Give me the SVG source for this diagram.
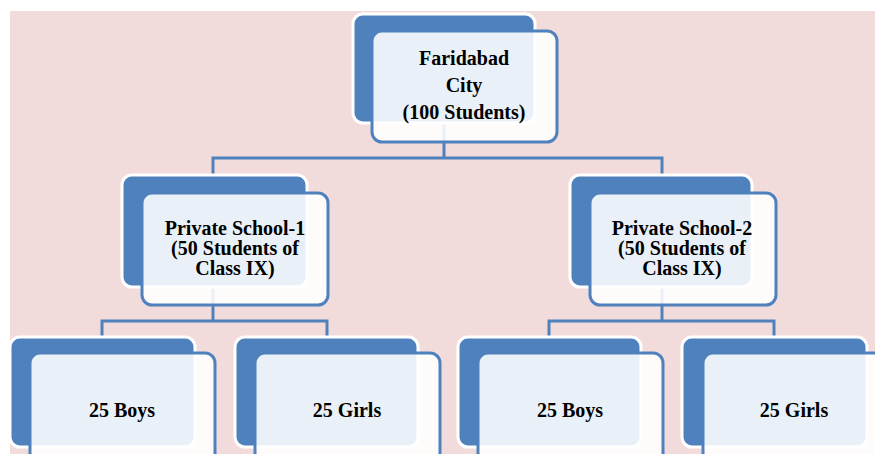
<svg xmlns="http://www.w3.org/2000/svg" width="875" height="454" viewBox="0 0 875 454">
<style>
.back{fill:#4F81BD;stroke:#FFFFFF;stroke-width:3}
.front{fill:#FFFFFF;fill-opacity:0.88;stroke:#4F81BD;stroke-width:3}
.conn{fill:none;stroke:#4F81BD;stroke-width:3}
text{font-family:"Liberation Serif","Times New Roman",serif;font-weight:bold;font-size:20px;fill:#000;text-anchor:middle}
</style>
<rect x="10" y="11" width="865" height="443" fill="#F2DCDB"/>
<g id="connectors">
<path class="conn" d="M444 123V158M213 175V158H662V175"/>
<path class="conn" d="M213 287V321M102 337V321H327V337"/>
<path class="conn" d="M662 287V321M549 337V321H774V337"/>
</g>
<g id="faridabad">
<rect class="back" x="353" y="14" width="182" height="109" rx="10"/>
<rect class="front" x="372" y="31" width="185" height="111" rx="10"/>
<text x="464" y="65">Faridabad</text>
<text x="464" y="92">City</text>
<text x="464" y="119">(100 Students)</text>
</g>
<g id="school1">
<rect class="back" x="122" y="175" width="185" height="112" rx="10"/>
<rect class="front" x="142" y="193" width="186" height="112" rx="10"/>
<text x="235" y="235">Private School-1</text>
<text x="235" y="255">(50 Students of</text>
<text x="235" y="275">Class IX)</text>
</g>
<g id="school2">
<rect class="back" x="570" y="175" width="182" height="112" rx="10"/>
<rect class="front" x="590" y="193" width="186" height="112" rx="10"/>
<text x="682" y="235">Private School-2</text>
<text x="682" y="255">(50 Students of</text>
<text x="682" y="275">Class IX)</text>
</g>
<g id="boys1">
<rect class="back" x="10" y="337" width="185" height="110" rx="10"/>
<rect class="front" x="30" y="353" width="185" height="120" rx="10"/>
<text x="122" y="417">25 Boys</text>
</g>
<g id="girls1">
<rect class="back" x="235" y="337" width="183" height="110" rx="10"/>
<rect class="front" x="255" y="353" width="185" height="120" rx="10"/>
<text x="347" y="417">25 Girls</text>
</g>
<g id="boys2">
<rect class="back" x="458" y="337" width="183" height="110" rx="10"/>
<rect class="front" x="478" y="353" width="185" height="120" rx="10"/>
<text x="570" y="417">25 Boys</text>
</g>
<g id="girls2">
<rect class="back" x="682" y="337" width="185" height="110" rx="10"/>
<rect class="front" x="703" y="353" width="185" height="120" rx="10"/>
<text x="794" y="417">25 Girls</text>
</g>
</svg>
